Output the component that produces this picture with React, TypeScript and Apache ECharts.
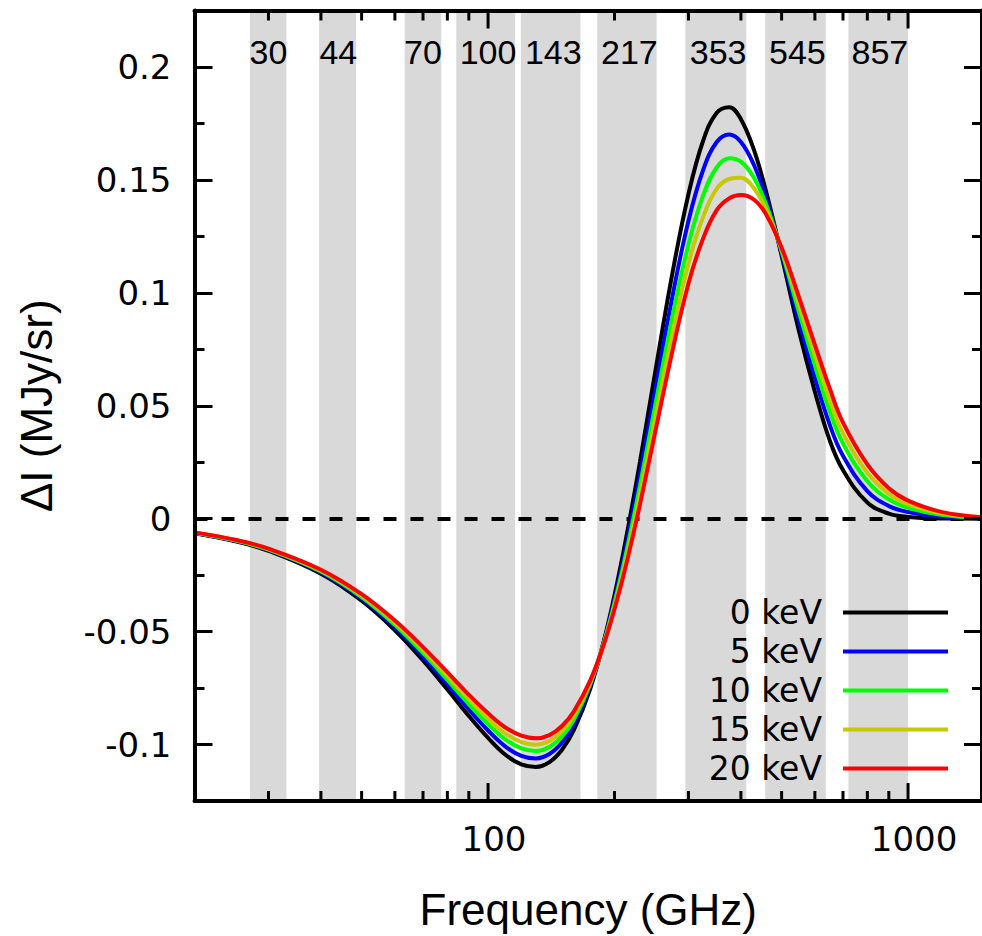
import React, { useEffect, useRef } from "react";
import * as echarts from "echarts";

// Frequencies (GHz) at which the curves were read
const freqGHz = [20, 25, 30, 40, 50, 60, 70, 80, 90, 100, 110, 120, 130, 140, 150, 160, 175, 190, 205, 217, 230, 250, 275, 300, 325, 350, 375, 400, 430, 460, 500, 550, 600, 650, 700, 800, 900, 1000, 1200, 1500];

// Delta I (MJy/sr) for each electron temperature
const keV0 = [-0.00649, -0.01002, -0.01423, -0.02439, -0.03634, -0.04941, -0.06275, -0.07561, -0.08731, -0.09703, -0.10452, -0.10879, -0.10995, -0.10779, -0.10229, -0.09364, -0.07542, -0.0519, -0.02447, -0.00094, 0.02521, 0.0649, 0.10903, 0.14366, 0.16723, 0.17961, 0.18221, 0.17689, 0.16303, 0.14425, 0.1164, 0.08295, 0.0562, 0.03501, 0.02153, 0.00717, 0.00221, 0.00079, 0.00006, 0.0];
const keV5 = [-0.00636, -0.00982, -0.01394, -0.02385, -0.03546, -0.04812, -0.06098, -0.07332, -0.08451, -0.09378, -0.10091, -0.10498, -0.10614, -0.1042, -0.09914, -0.09116, -0.07431, -0.05249, -0.02695, -0.00497, 0.01956, 0.05693, 0.09868, 0.13181, 0.15426, 0.16668, 0.17009, 0.16681, 0.15648, 0.14133, 0.11748, 0.08747, 0.06244, 0.04191, 0.02782, 0.01222, 0.0056, 0.00295, 0.00094, 0.00018];
const keV10 = [-0.00626, -0.00965, -0.01368, -0.02338, -0.03471, -0.047, -0.05945, -0.07134, -0.08209, -0.09095, -0.09777, -0.10168, -0.10284, -0.10109, -0.09642, -0.08901, -0.07335, -0.053, -0.0291, -0.00847, 0.01465, 0.05003, 0.08971, 0.12153, 0.14302, 0.15547, 0.15958, 0.15808, 0.15081, 0.13879, 0.11842, 0.09138, 0.06785, 0.04788, 0.03327, 0.01659, 0.00853, 0.00483, 0.00171, 0.00034];
const keV15 = [-0.00616, -0.0095, -0.01347, -0.02298, -0.03406, -0.04605, -0.05815, -0.06967, -0.08003, -0.08857, -0.09512, -0.09889, -0.10004, -0.09845, -0.09411, -0.0872, -0.07253, -0.05344, -0.03092, -0.01142, 0.01051, 0.0442, 0.08213, 0.11284, 0.13352, 0.14599, 0.1504, 0.151, 0.1462, 0.13665, 0.11921, 0.09469, 0.07242, 0.05294, 0.03789, 0.0203, 0.01101, 0.00641, 0.00235, 0.00047];
const keV20 = [-0.00607, -0.00935, -0.01325, -0.02258, -0.03342, -0.0451, -0.05685, -0.06799, -0.07798, -0.08618, -0.09247, -0.0961, -0.09725, -0.09582, -0.0918, -0.08538, -0.07172, -0.05387, -0.03274, -0.01438, 0.00636, 0.03835, 0.07454, 0.10415, 0.124, 0.1365, 0.1418, 0.1433, 0.1412, 0.1345, 0.12, 0.098, 0.077, 0.058, 0.0425, 0.024, 0.0135, 0.008, 0.003, 0.0006];

const seriesNames = ["0 keV", "5 keV", "10 keV", "15 keV", "20 keV"];
const seriesColors = ["#000000", "#0000ff", "#00ff00", "#c8c800", "#ff0000"];

// Planck frequency bands (GHz)
const bandLabels = [30, 44, 70, 100, 143, 217, 353, 545, 857];
const bandLow = [27.1, 39.6, 63.3, 84, 119.7, 182, 295, 457, 721];
const bandHigh = [33.1, 48.5, 77.4, 116, 166, 252, 412, 637, 1000];

// Axis ticks
const xMajorTicks = [100, 1000];
const xMinorTicks = [30, 40, 50, 60, 70, 80, 90, 200, 300, 400, 500, 600, 700, 800, 900];
const yMajorTicks = [-0.1, -0.05, 0, 0.05, 0.1, 0.15, 0.2];
const yMinorTicks = [-0.075, -0.025, 0.025, 0.075, 0.125, 0.175];

const X_MIN = 20;
const X_MAX = 1500;
const Y_MIN = -0.125;
const Y_MAX = 0.225;

const MAJOR_LEN = 18;
const MINOR_LEN = 10;

export default function App() {
  const ref = useRef<HTMLDivElement>(null);

  useEffect(() => {
    if (!ref.current) return;
    const chart = echarts.init(ref.current, null, { renderer: "svg" });
    const curves = [keV0, keV5, keV10, keV15, keV20];

    const axisLineStyle = { show: true, onZero: false, lineStyle: { color: "#000", width: 4 } };
    const noLine = { show: false, onZero: false };

    const xBase = (position: string) => ({
      type: "log",
      logBase: 10,
      min: X_MIN,
      max: X_MAX,
      gridIndex: 0,
      position,
      z: 10,
      splitLine: { show: false },
      minorTick: { show: false },
      minorSplitLine: { show: false },
      axisTick: { show: false },
    });
    const yBase = (position: string) => ({
      type: "value",
      min: Y_MIN,
      max: Y_MAX,
      gridIndex: 0,
      position,
      z: 10,
      splitLine: { show: false },
      minorTick: { show: false },
    });
    const tick = (values: number[], length: number) => ({
      show: true,
      inside: true,
      length,
      customValues: values,
      lineStyle: { color: "#000", width: 3 },
    });

    // x ticks drawn as thin filled bars on the bottom and top frame
    const xTickData = [
      ...xMajorTicks.map((v) => [v, Y_MIN, 1]),
      ...xMinorTicks.map((v) => [v, Y_MIN, 0]),
    ];
    const renderXTick = (params: any, api: any) => {
      const f = api.value(0);
      const len = api.value(2) ? MAJOR_LEN : MINOR_LEN;
      const pb = api.coord([f, Y_MIN]);
      const pt = api.coord([f, Y_MAX]);
      return {
        type: "group",
        children: [
          {
            type: "rect",
            shape: { x: pb[0] - 1.5, y: pb[1] - len, width: 3, height: len },
            style: { fill: "#000" },
          },
          {
            type: "rect",
            shape: { x: pt[0] - 1.5, y: pt[1], width: 3, height: len },
            style: { fill: "#000" },
          },
        ],
      };
    };

    const lineSeries = curves.map((vals, si) => {
      const s: any = {
        type: "line",
        name: seriesNames[si],
        xAxisIndex: 0,
        yAxisIndex: 0,
        data: freqGHz.map((f, i) => [f, vals[i]]),
        showSymbol: false,
        symbol: "none",
        smooth: 0.4,
        z: 2,
        lineStyle: { color: seriesColors[si], width: 4 },
        itemStyle: { color: seriesColors[si] },
      };
      if (si === 0) {
        s.markArea = {
          silent: true,
          z: 1,
          itemStyle: { color: "#d9d9d9", opacity: 1, borderWidth: 0 },
          label: { show: false },
          data: bandLow.map((lo, i) => [{ xAxis: lo }, { xAxis: bandHigh[i] }]),
        };
        s.markLine = {
          silent: true,
          z: 1.5,
          symbol: "none",
          label: { show: false },
          lineStyle: { color: "#000", width: 4, type: [13, 14] },
          data: [{ yAxis: 0 }],
        };
      }
      return s;
    });

    const option: any = {
      animation: false,
      backgroundColor: "#ffffff",
      grid: { left: 194.5, top: 10.5, width: 794, height: 793.3, containLabel: false },
      legend: {
        orient: "vertical",
        right: 34,
        top: 593,
        padding: 0,
        itemGap: 0,
        itemWidth: 105,
        itemHeight: 4,
        icon: "rect",
        align: "right",
        selectedMode: false,
        data: seriesNames,
        textStyle: {
          fontSize: 33,
          fontFamily: "DejaVu Sans",
          color: "#000",
          lineHeight: 39,
          padding: [0, 16, 0, 0],
        },
      },
      xAxis: [
        {
          ...xBase("bottom"),
          axisLine: axisLineStyle,
          axisLabel: {
            show: true,
            customValues: xMajorTicks,
            formatter: (v: number) => String(Math.round(v)),
            fontSize: 34,
            fontFamily: "DejaVu Sans",
            color: "#000",
            margin: 38,
            verticalAlign: "middle",
            padding: [0, 0, 0, 12],
          },
          name: "Frequency (GHz)",
          nameLocation: "middle",
          nameGap: 108,
          nameTextStyle: {
            fontSize: 44,
            fontFamily: "Liberation Sans",
            color: "#000",
            verticalAlign: "middle",
          },
        },
        {
          ...xBase("top"),
          axisLine: axisLineStyle,
          axisLabel: {
            show: true,
            inside: true,
            customValues: bandLabels,
            formatter: (v: number) => String(Math.round(v)),
            fontSize: 34,
            fontFamily: "Liberation Sans",
            color: "#000",
            margin: 41,
            verticalAlign: "middle",
          },
        },
      ],
      yAxis: [
        {
          ...yBase("left"),
          axisLine: axisLineStyle,
          axisTick: tick(yMajorTicks, MAJOR_LEN),
          axisLabel: {
            show: true,
            customValues: yMajorTicks,
            formatter: (v: number) => String(Math.round(v * 1000) / 1000),
            fontSize: 34,
            fontFamily: "DejaVu Sans",
            color: "#000",
            margin: 23,
          },
          name: "ΔI (MJy/sr)",
          nameLocation: "middle",
          nameRotate: 90,
          nameGap: 158,
          nameTextStyle: {
            fontSize: 44,
            fontFamily: "Liberation Sans",
            color: "#000",
            verticalAlign: "middle",
          },
        },
        {
          ...yBase("left"),
          axisLine: noLine,
          axisTick: tick(yMinorTicks, MINOR_LEN),
          axisLabel: { show: false },
        },
        {
          ...yBase("right"),
          axisLine: axisLineStyle,
          axisTick: tick(yMajorTicks, MAJOR_LEN),
          axisLabel: { show: false },
        },
        {
          ...yBase("right"),
          axisLine: noLine,
          axisTick: tick(yMinorTicks, MINOR_LEN),
          axisLabel: { show: false },
        },
      ],
      series: [
        ...lineSeries,
        {
          type: "custom",
          name: "xticks",
          xAxisIndex: 0,
          yAxisIndex: 0,
          clip: false,
          silent: true,
          z: 20,
          encode: { x: 0, y: 1 },
          data: xTickData,
          renderItem: renderXTick,
        },
      ],
    };

    chart.setOption(option);
    return () => chart.dispose();
  }, []);

  return (
    <div
      ref={ref}
      style={{ position: "absolute", left: 0, top: 0, width: 982, height: 936 }}
    />
  );
}
